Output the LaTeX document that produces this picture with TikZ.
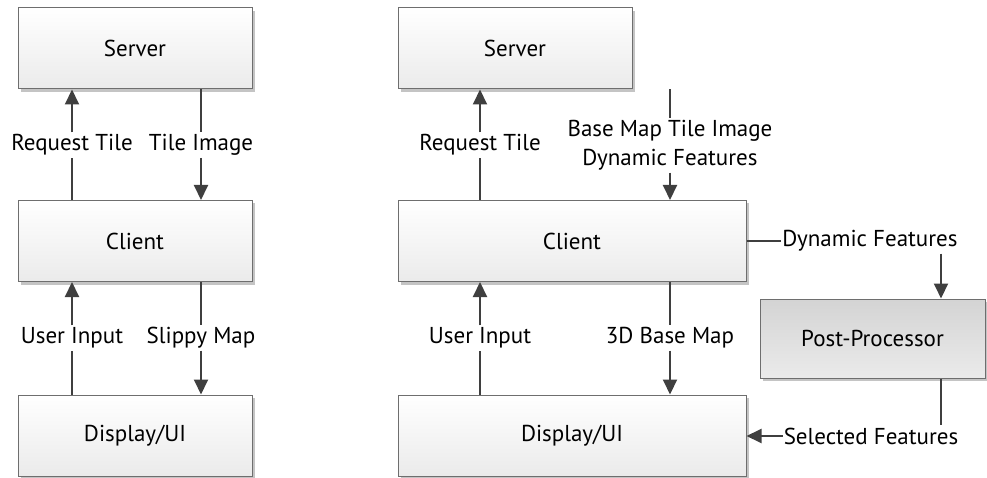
\documentclass[tikz,border=0pt]{standalone}
\usepackage{fontspec}
\setmainfont{PT Sans}
\usetikzlibrary{shadows,arrows.meta}
\definecolor{edge}{HTML}{6E6E6E}
\definecolor{ink}{HTML}{3F3F3F}
\definecolor{shade}{HTML}{C4C4C4}
\tikzset{
  box/.style={draw=edge, line width=1pt, top color=white, bottom color=black!8,
    minimum width=234pt, minimum height=81pt, inner sep=0pt, font=\fontsize{23}{28}\selectfont,
    drop shadow={shadow xshift=3pt, shadow yshift=-3pt, fill=shade, opacity=1}},
  darkbox/.style={box, top color=black!17, bottom color=black!8},
  lbl/.style={inner xsep=1pt, inner ysep=2pt, font=\fontsize{23}{29}\selectfont, align=center},
  flow/.style={draw=ink, line width=2pt},
  tip/.style={flow, -{Triangle[length=15pt, width=14pt]}}
}
\begin{document}
\begin{tikzpicture}[x=1pt, y=-1pt]
\useasboundingbox (0,0) rectangle (987,478);
% left column: plain slippy map
\node[box] (lserver) at (135,48.5) {Server};
\node[box] (lclient) at (135,241) {Client};
\node[box] (ldisp) at (135,435.5) {Display/UI};
% right column: 3D client with post-processing
\node[box] (rserver) at (515,48.5) {Server};
\node[box, minimum width=348pt] (rclient) at (572,241) {Client};
\node[box, minimum width=348pt] (rdisp) at (572,435.5) {Display/UI};
\node[darkbox, minimum width=225pt, minimum height=79pt] (pp) at (872.5,338.5) {Post-Processor};

% labels on the connectors
\node[lbl] (lreq) at (72,145) {Request Tile};
\node[lbl] (limg) at (201,145) {Tile Image};
\node[lbl] (luser) at (72,338) {User Input};
\node[lbl] (lmap) at (201,338) {Slippy Map};
\node[lbl] (rreq) at (480,145) {Request Tile};
\node[lbl] (rimg) at (670,145.5) {Base Map Tile Image\\Dynamic Features};
\node[lbl] (ruser) at (480,338) {User Input};
\node[lbl] (rmap) at (670,338) {3D Base Map};
\node[lbl] (dyn) at (870,241) {Dynamic Features};
\node[lbl] (sel) at (871,436) {Selected Features};
\coordinate (dynx) at (941,0);

% left connectors
\draw[flow] (lclient.north -| lreq) -- (lreq.south);
\draw[tip] (lreq.north) -- (lserver.south -| lreq);
\draw[flow] (lserver.south -| limg) -- (limg.north);
\draw[tip] (limg.south) -- (lclient.north -| limg);
\draw[flow] (ldisp.north -| luser) -- (luser.south);
\draw[tip] (luser.north) -- (lclient.south -| luser);
\draw[flow] (lclient.south -| lmap) -- (lmap.north);
\draw[tip] (lmap.south) -- (ldisp.north -| lmap);

% right connectors
\draw[flow] (rclient.north -| rreq) -- (rreq.south);
\draw[tip] (rreq.north) -- (rserver.south -| rreq);
\draw[flow] (rserver.south -| rimg) -- (rimg.north);
\draw[tip] (rimg.south) -- (rclient.north -| rimg);
\draw[flow] (rdisp.north -| ruser) -- (ruser.south);
\draw[tip] (ruser.north) -- (rclient.south -| ruser);
\draw[flow] (rclient.south -| rmap) -- (rmap.north);
\draw[tip] (rmap.south) -- (rdisp.north -| rmap);

% post-processing loop
\draw[flow] (rclient.east) -- (dyn.west);
\draw[tip] (dyn.south -| dynx) -- (pp.north -| dynx);
\draw[flow] (pp.south -| dynx) -- (sel.north -| dynx);
\draw[tip] (sel.west) -- (rdisp.east |- sel);
\end{tikzpicture}
\end{document}
